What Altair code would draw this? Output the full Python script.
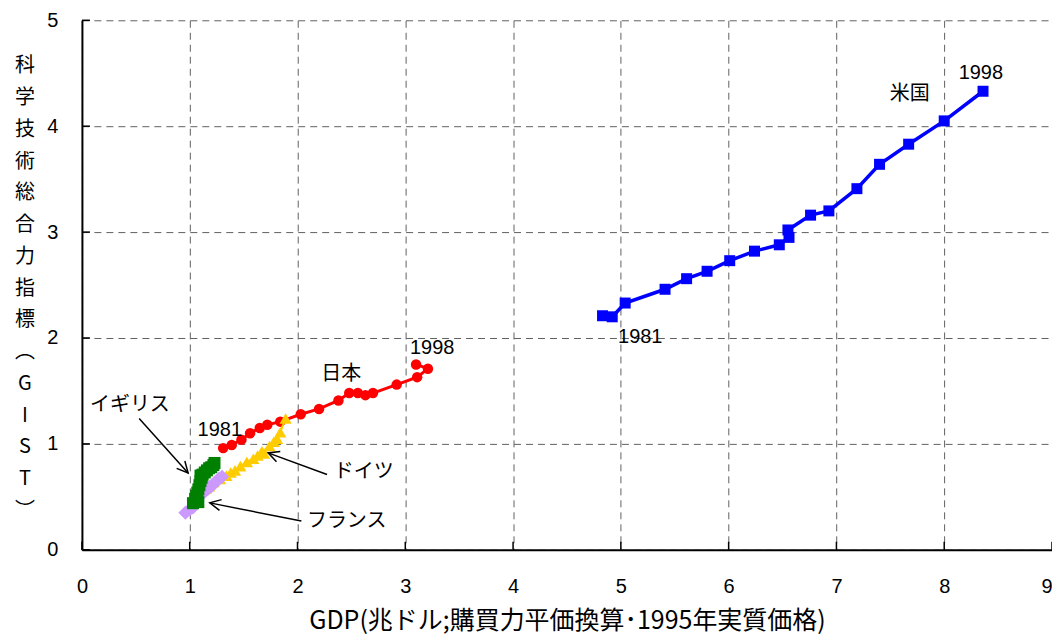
import math
import altair as alt
import pandas as pd

# ---------------- data ----------------
years = list(range(1981, 1999))

us_gdp = [4.83, 4.92, 5.04, 5.41, 5.61, 5.80, 6.01, 6.24, 6.47, 6.56, 6.55, 6.76, 6.93, 7.19, 7.40, 7.67, 8.00, 8.36]
us_gist = [2.21, 2.20, 2.33, 2.46, 2.56, 2.63, 2.73, 2.82, 2.88, 2.95, 3.02, 3.16, 3.20, 3.41, 3.64, 3.83, 4.05, 4.33]

jp_gdp = [1.31, 1.39, 1.48, 1.56, 1.65, 1.72, 1.84, 2.03, 2.20, 2.38, 2.48, 2.56, 2.63, 2.70, 2.92, 3.11, 3.21, 3.10]
jp_gist = [0.96, 0.99, 1.04, 1.10, 1.15, 1.18, 1.21, 1.28, 1.33, 1.41, 1.48, 1.48, 1.46, 1.48, 1.56, 1.63, 1.71, 1.75]

de_gdp = [1.15, 1.18, 1.22, 1.28, 1.34, 1.38, 1.42, 1.47, 1.53, 1.59, 1.63, 1.67, 1.69, 1.74, 1.78, 1.81, 1.84, 1.89]
de_gist = [0.58, 0.60, 0.64, 0.67, 0.70, 0.73, 0.75, 0.79, 0.83, 0.86, 0.89, 0.93, 0.91, 0.98, 1.02, 1.05, 1.11, 1.24]

fr_gdp = [0.96, 1.00, 1.03, 1.05, 1.07, 1.08, 1.10, 1.12, 1.14, 1.16, 1.17, 1.18, 1.20, 1.21, 1.23, 1.25, 1.27, 1.30]
fr_gist = [0.35, 0.38, 0.40, 0.43, 0.46, 0.49, 0.52, 0.54, 0.55, 0.57, 0.58, 0.59, 0.60, 0.61, 0.63, 0.65, 0.67, 0.69]

uk_gdp = [1.03, 1.08, 1.05, 1.06, 1.07, 1.08, 1.09, 1.10, 1.11, 1.10, 1.11, 1.12, 1.14, 1.16, 1.18, 1.20, 1.22, 1.23]
uk_gist = [0.44, 0.45, 0.48, 0.51, 0.54, 0.57, 0.61, 0.65, 0.68, 0.70, 0.70, 0.71, 0.73, 0.75, 0.77, 0.78, 0.80, 0.82]

x_ticks = [0, 1, 2, 3, 4, 5, 6, 7, 8, 9]
y_ticks = [0, 1, 2, 3, 4, 5]

x_title = "GDP(兆ドル;購買力平価換算･1995年実質価格)"
y_title_chars = ["科", "学", "技", "術", "総", "合", "力", "指", "標", "︵", "G", "I", "S", "T", "︶"]

name_labels = ["イギリス", "日本", "ドイツ", "フランス", "米国"]
name_x = [0.445, 2.405, 2.614, 2.456, 7.68]
name_y = [1.365, 1.658, 0.738, 0.271, 4.30]

year_labels = ["1981", "1998", "1981", "1998"]
year_x = [1.279, 3.25, 5.18, 8.34]
year_y = [1.129, 1.91, 2.007, 4.50]

arrow_x = [0.531, 2.274, 2.036]
arrow_y = [1.240, 0.711, 0.271]
arrow_x2 = [0.985, 1.727, 1.186]
arrow_y2 = [0.726, 0.915, 0.443]

# ---------------- layout ----------------
W, H = 971, 530
XMAX, YMAX = 9, 5
JP_FONT = "Noto Sans CJK JP"
NUM_FONT = "Liberation Sans"

xs = alt.Scale(domain=[0, XMAX], nice=False, zero=False)
ys = alt.Scale(domain=[0, YMAX], nice=False, zero=False)

grid_kw = dict(grid=True, gridDash=[7, 5], gridColor="#606060", gridWidth=1,
               ticks=False, domainColor="black", domainWidth=2,
               labelColor="black", labelFontSize=20, labelFont=NUM_FONT, format="d")

x_axis = alt.Axis(values=x_ticks, title=x_title, labelPadding=27,
                  labelAlign=alt.expr(f"datum.value == {XMAX} ? 'right' : 'center'"),
                  titleFont=JP_FONT, titleFontSize=25, titleFontWeight="normal",
                  titleColor="black", titlePadding=12, **grid_kw)
y_axis = alt.Axis(values=y_ticks, title=None, labelPadding=24, **grid_kw)


def X(field):
    return alt.X(field, scale=xs, axis=x_axis)


def Y(field):
    return alt.Y(field, scale=ys, axis=y_axis)


# inside tick marks
xt = alt.Chart(pd.DataFrame({"v": x_ticks})).mark_rule(color="black", strokeWidth=1.5).encode(
    x=X("v:Q"), y=alt.value(H), y2=alt.value(H - 8))
yt = alt.Chart(pd.DataFrame({"v": y_ticks})).mark_rule(color="black", strokeWidth=1.5).encode(
    y=Y("v:Q"), x=alt.value(0), x2=alt.value(8))


def series(gx, gy, color, shape, size, lw):
    df = pd.DataFrame({"year": years, "gdp": gx, "gist": gy})
    base = alt.Chart(df).encode(x=X("gdp:Q"), y=Y("gist:Q"), order=alt.Order("year:O"))
    line = base.mark_line(color=color, strokeWidth=lw)
    pts = base.mark_point(shape=shape, size=size, filled=True, color=color, opacity=1)
    return [line, pts]


layers = [xt, yt]
layers += series(us_gdp, us_gist, "#0000FF", "square", 121, 3.5)
layers += series(jp_gdp, jp_gist, "#FF0000", "circle", 110, 3)
layers += series(de_gdp, de_gist, "#FFCC00", "triangle-up", 150, 2)
layers += series(fr_gdp, fr_gist, "#CC99FF", "diamond", 200, 2)
layers += series(uk_gdp, uk_gist, "#008000", "square", 144, 2)

# arrows
px_x = W / XMAX
px_y = H / YMAX
angles = [math.degrees(math.atan2(-(y2 - y1) * px_y, (x2 - x1) * px_x)) % 360
          for x1, y1, x2, y2 in zip(arrow_x, arrow_y, arrow_x2, arrow_y2)]
arr_df = pd.DataFrame({"x": arrow_x, "y": arrow_y, "x2": arrow_x2, "y2": arrow_y2, "ang": angles})
arr_line = alt.Chart(arr_df).mark_rule(color="black", strokeWidth=1.5).encode(
    x=X("x:Q"), y=Y("y:Q"), x2="x2:Q", y2="y2:Q")
arr_head = alt.Chart(arr_df).mark_point(
    shape="M -1 -0.5 L 0 0 L -1 0.5", filled=False, color="black",
    strokeWidth=1.5, size=484, opacity=1).encode(
    x=X("x2:Q"), y=Y("y2:Q"), angle=alt.Angle("ang:Q", scale=None))
layers += [arr_line, arr_head]

# labels
names = alt.Chart(pd.DataFrame({"t": name_labels, "x": name_x, "y": name_y})).mark_text(
    font=JP_FONT, fontSize=20, color="black", align="center", baseline="middle").encode(
    x=X("x:Q"), y=Y("y:Q"), text="t:N")
yrs = alt.Chart(pd.DataFrame({"t": year_labels, "x": year_x, "y": year_y})).mark_text(
    font=NUM_FONT, fontSize=20, color="black", align="center", baseline="middle").encode(
    x=X("x:Q"), y=Y("y:Q"), text="t:N")
layers += [names, yrs]

# vertical y-axis title
ytitle = alt.Chart(pd.DataFrame({"k": [0]})).mark_text(
    font=JP_FONT, fontSize=20, color="black", align="center", baseline="top",
    lineBreak="\n", lineHeight=31.8).encode(
    x=alt.value(-57), y=alt.value(36), text=alt.value("\n".join(y_title_chars)))
layers += [ytitle]

chart = alt.layer(*layers).properties(
    width=W, height=H,
    background="white",
    autosize=alt.AutoSizeParams(type="none"),
    padding={"left": 74, "top": 12, "right": 0, "bottom": 87},
).configure_view(strokeWidth=0)

chart.save("out.html", embed_options={"renderer": "svg", "actions": False})
